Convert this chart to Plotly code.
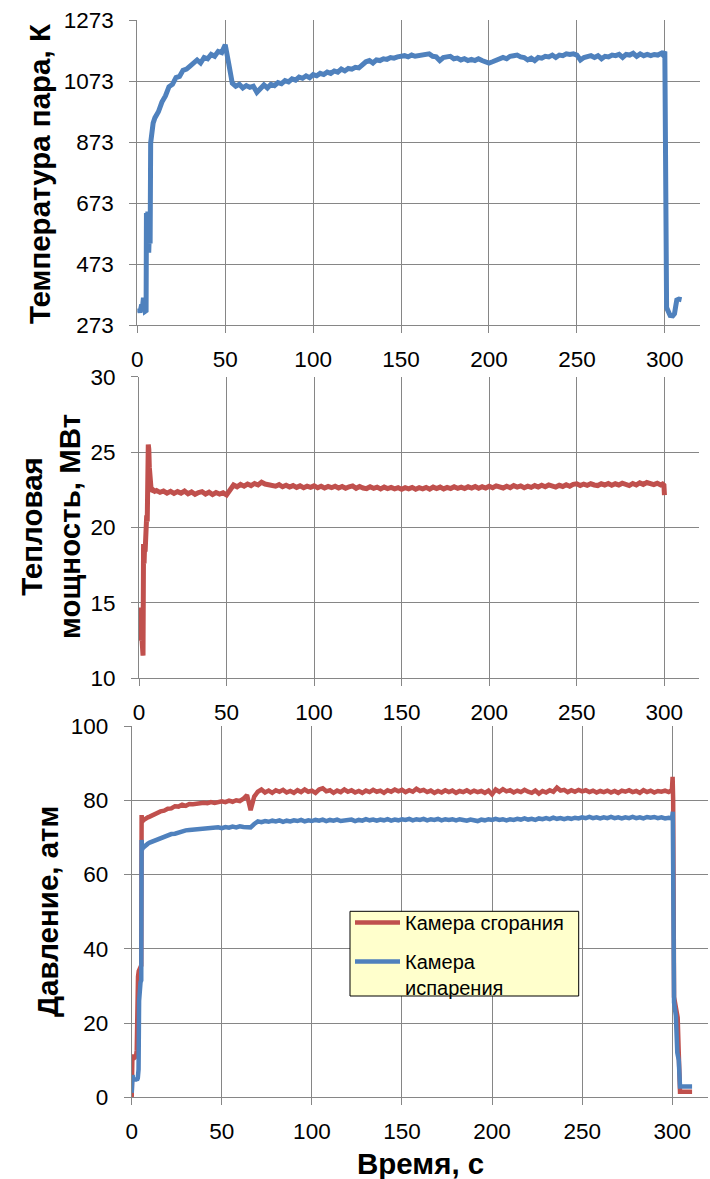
import plotly.graph_objects as go

# ---------------------------------------------------------------------------
# Measured data.  Each series = irregular start-up samples + regular 2 s
# samples on t = 10 ... 298 s + shut-down samples.
# ---------------------------------------------------------------------------
steady_t = list(range(10, 300, 2))          # 145 sampling instants

x_ticks = [0, 50, 100, 150, 200, 250, 300]

# --- Steam temperature, K -------------------------------------------------
vapor_t_start = [0.5, 1, 1.5, 2, 2.5, 3, 3.5, 4, 4.5, 5, 5.2, 5.5, 6, 6.5,
                 7, 7.3, 7.6, 8.2, 9]
vapor_T_start = [318, 322, 314, 330, 340, 335, 362, 350, 318, 320, 640, 520,
                 645, 510, 600, 540, 870, 920, 935]
vapor_T_steady = [
    952, 972, 1004, 1024, 1054, 1062, 1084, 1088, 1108, 1112,
    1122, 1130, 1142, 1132, 1150, 1146, 1160, 1154, 1170, 1166,
    1192, 1130, 1066, 1056, 1062, 1050, 1058, 1052, 1056, 1036,
    1050, 1060, 1050, 1062, 1058, 1068, 1064, 1074, 1070, 1080,
    1076, 1086, 1082, 1090, 1084, 1094, 1090, 1098, 1094, 1102,
    1098, 1106, 1102, 1112, 1106, 1114, 1112, 1118, 1116, 1126,
    1136, 1140, 1132, 1142, 1140, 1146, 1144, 1150, 1148, 1152,
    1154, 1156, 1152, 1158, 1154, 1156, 1158, 1160, 1162, 1154,
    1152, 1140, 1150, 1152, 1154, 1146, 1148, 1142, 1146, 1140,
    1144, 1140, 1146, 1140, 1138, 1132, 1136, 1140, 1146, 1150,
    1146, 1154, 1156, 1158, 1152, 1150, 1142, 1148, 1140, 1150,
    1148, 1154, 1152, 1158, 1150, 1158, 1156, 1162, 1160, 1162,
    1158, 1142, 1150, 1152, 1156, 1150, 1156, 1146, 1154, 1152,
    1158, 1156, 1160, 1150, 1160, 1158, 1164, 1154, 1162, 1156,
    1160, 1156, 1160, 1158, 1164,
]
vapor_t_end = [299, 300, 301, 302, 303, 304.5, 305.5, 306.2, 306.8, 308, 309.5]
vapor_T_end = [1158, 1170, 330, 312, 304, 303, 310, 335, 355, 358, 356]

# --- Heat power, MW -------------------------------------------------------
power_t_start = [0.5, 0.8, 1.1, 1.4, 1.7, 2.0, 2.3, 2.6, 2.9, 3.2, 3.5, 3.8,
                 4.1, 4.4, 4.7, 5.0, 5.3, 5.6, 5.9, 6.2, 6.6, 7.0, 8.0, 9.0]
power_P_start = [14.7, 12.5, 14.4, 13.0, 12.6, 12.2, 11.5, 18.9, 17.6, 18.8,
                 18.4, 20.6, 20.2, 20.8, 20.4, 24.8, 25.5, 25.2, 24.0, 23.0,
                 22.5, 22.4, 22.5, 22.4]
power_P_steady = [
    22.45, 22.33, 22.42, 22.28, 22.40, 22.26, 22.38, 22.28, 22.42, 22.24,
    22.36, 22.20, 22.32, 22.38, 22.22, 22.34, 22.18, 22.32, 22.22, 22.30,
    22.16, 22.55, 22.82, 22.70, 22.86, 22.74, 22.88, 22.78, 22.92, 22.82,
    23.00, 22.88, 22.84, 22.78, 22.74, 22.84, 22.70, 22.80, 22.68, 22.78,
    22.66, 22.76, 22.64, 22.74, 22.66, 22.76, 22.64, 22.74, 22.62, 22.72,
    22.64, 22.74, 22.62, 22.72, 22.60, 22.70, 22.76, 22.60, 22.72, 22.62,
    22.58, 22.70, 22.60, 22.68, 22.56, 22.68, 22.58, 22.66, 22.56, 22.64,
    22.54, 22.64, 22.56, 22.66, 22.54, 22.64, 22.56, 22.66, 22.54, 22.68,
    22.58, 22.68, 22.56, 22.66, 22.58, 22.70, 22.60, 22.68, 22.58, 22.70,
    22.62, 22.72, 22.60, 22.70, 22.62, 22.74, 22.64, 22.76, 22.66, 22.62,
    22.74, 22.64, 22.78, 22.68, 22.76, 22.64, 22.74, 22.66, 22.78, 22.68,
    22.80, 22.70, 22.82, 22.72, 22.68, 22.80, 22.72, 22.84, 22.74, 22.86,
    22.90, 22.78, 22.88, 22.80, 22.90, 22.82, 22.78, 22.90, 22.82, 22.92,
    22.80, 22.90, 22.82, 22.94, 22.84, 22.78, 22.92, 22.82, 22.96, 22.86,
    22.98, 22.88, 22.84, 22.94, 22.82,
]
power_t_end = [299, 299.8, 300.1]
power_P_end = [22.88, 22.80, 22.15]

# --- Pressure, atm: combustion chamber -----------------------------------
comb_t_start = [0, 0.4, 0.9, 1.4, 1.9, 2.4, 2.8, 3.1, 3.5, 3.9, 4.3, 4.8,
                5.3, 5.5, 5.8, 6.3, 7, 8, 9]
comb_P_start = [0, 11.2, 10.6, 11.4, 10.8, 11.0, 12.7, 28.0, 32.5, 34.0,
                34.3, 35.2, 35.5, 76.0, 74.2, 74.5, 74.8, 75.2, 75.4]
comb_P_steady = [
    75.6, 76.1, 76.4, 77.0, 77.2, 77.7, 77.8, 78.4, 78.3, 78.8,
    78.5, 79.0, 78.9, 79.1, 79.0, 79.3, 79.2, 79.5, 79.3, 79.6,
    79.7, 79.5, 79.9, 79.6, 80.0, 79.8, 80.4, 81.4, 77.3, 81.0,
    82.3, 82.9, 82.1, 82.6, 82.0, 82.7, 82.3, 82.8, 82.1, 82.5,
    82.0, 82.7, 82.2, 82.9, 82.3, 82.6, 82.0, 82.9, 83.2, 82.4,
    82.7, 82.0, 82.6, 82.2, 82.9, 82.3, 82.7, 82.1, 82.5, 82.0,
    82.6, 82.2, 82.8, 82.3, 82.6, 82.0, 82.7, 82.3, 82.9, 82.4,
    82.8, 82.2, 82.7, 82.3, 83.1, 82.5, 82.8, 82.2, 82.6, 82.0,
    82.5, 82.1, 82.7, 82.2, 82.6, 82.0, 82.5, 82.2, 82.7, 82.1,
    82.6, 82.2, 82.5, 82.0, 82.6, 81.6, 82.9, 82.3, 83.0, 82.4,
    82.7, 82.1, 82.6, 82.2, 82.8, 82.3, 82.0, 82.6, 81.8, 82.5,
    82.1, 82.7, 82.3, 83.4, 82.6, 82.8, 82.2, 82.7, 82.3, 82.8,
    82.4, 82.7, 82.2, 82.6, 82.1, 82.5, 82.2, 82.6, 82.1, 82.5,
    82.0, 82.6, 82.3, 82.7, 82.2, 82.5, 82.0, 82.7, 82.2, 82.6,
    82.1, 82.5, 82.3, 82.6, 82.2,
]
comb_t_end = [299, 299.8, 300.2, 300.5, 301.0, 302.0, 303.0, 303.6, 304.3, 311.0]
comb_P_end = [82.5, 82.8, 86.3, 80.0, 27.0, 24.5, 21.5, 12.0, 1.5, 1.5]

# --- Pressure, atm: evaporation chamber ----------------------------------
evap_t_start = [0, 0.5, 0.9, 1.4, 1.9, 2.4, 2.9, 3.4, 3.8, 4.1, 4.5, 4.9,
                5.3, 5.5, 5.8, 6.3, 7, 8, 9]
evap_P_start = [1.2, 6.0, 4.6, 5.2, 4.4, 5.0, 4.6, 5.2, 7.5, 26.0, 30.2,
                31.0, 31.5, 69.3, 66.8, 67.2, 67.6, 67.9, 68.3]
evap_P_steady = [
    68.6, 69.0, 69.5, 69.8, 70.3, 70.6, 70.9, 71.0, 71.4, 71.6,
    71.9, 72.0, 72.1, 72.3, 72.2, 72.5, 72.4, 72.6, 72.5, 72.7,
    72.5, 72.8, 72.6, 72.9, 72.7, 73.0, 72.8, 72.9, 72.7, 73.6,
    74.3, 74.1, 74.4, 74.2, 74.5, 74.3, 74.6, 74.2, 74.5, 74.3,
    74.6, 74.4, 74.7, 74.3, 74.6, 74.4, 74.7, 74.5, 74.8, 74.4,
    74.7, 74.5, 74.8, 74.4, 74.6, 74.5, 74.8, 74.4, 74.7, 74.5,
    74.9, 74.6, 74.8, 74.5, 74.8, 74.6, 74.9, 74.5, 74.8, 74.6,
    74.9, 74.7, 75.0, 74.6, 74.9, 74.7, 75.0, 74.6, 74.9, 74.7,
    75.0, 74.6, 74.9, 74.7, 74.9, 74.6, 74.9, 74.7, 74.5, 74.8,
    74.6, 74.4, 74.8, 74.6, 74.9, 74.7, 75.0, 74.7, 74.9, 74.6,
    74.9, 74.7, 75.0, 74.8, 75.1, 74.8, 75.0, 74.7, 75.1, 74.9,
    75.2, 74.9, 75.3, 75.0, 75.2, 74.9, 75.2, 75.0, 75.3, 75.1,
    75.4, 75.2, 75.5, 75.2, 75.4, 75.1, 75.4, 75.2, 75.5, 75.2,
    75.4, 75.1, 75.4, 75.2, 75.5, 75.2, 75.4, 75.1, 75.5, 75.3,
    75.5, 75.2, 75.4, 75.1, 75.3,
]
evap_t_end = [299, 300, 300.3, 301.0, 302.0, 302.8, 303.6, 304.3, 311.0]
evap_P_end = [75.2, 75.6, 76.9, 25.5, 22.0, 12.0, 10.0, 2.9, 2.9]

for series in (vapor_T_steady, power_P_steady, comb_P_steady, evap_P_steady):
    assert len(series) == len(steady_t)

vapor_t = vapor_t_start + steady_t + vapor_t_end
vapor_T = vapor_T_start + vapor_T_steady + vapor_T_end
power_t = power_t_start + steady_t + power_t_end
power_P = power_P_start + power_P_steady + power_P_end
comb_t = comb_t_start + steady_t + comb_t_end
comb_P = comb_P_start + comb_P_steady + comb_P_end
evap_t = evap_t_start + steady_t + evap_t_end
evap_P = evap_P_start + evap_P_steady + evap_P_end

# ---------------------------------------------------------------------------
RED = "#C0504D"
BLUE = "#4F81BD"
GRID = "#868686"
FONT = "Liberation Sans, Arial, sans-serif"
W, H = 710, 1179

fig = go.Figure()

fig.add_trace(go.Scatter(x=vapor_t, y=vapor_T, mode="lines",
                         line=dict(color=BLUE, width=5),
                         xaxis="x", yaxis="y", showlegend=False))
fig.add_trace(go.Scatter(x=power_t, y=power_P, mode="lines",
                         line=dict(color=RED, width=5),
                         xaxis="x2", yaxis="y2", showlegend=False))
fig.add_trace(go.Scatter(x=comb_t, y=comb_P, mode="lines",
                         name="Камера сгорания", legendgroup="a",
                         line=dict(color=RED, width=4.5),
                         xaxis="x3", yaxis="y3"))
fig.add_trace(go.Scatter(x=evap_t, y=evap_P, mode="lines",
                         name="Камера<br>испарения", legendgroup="b",
                         line=dict(color=BLUE, width=4.5),
                         xaxis="x3", yaxis="y3"))


def px_x(left, right):
    return [left / W, right / W]


def px_y(top, bottom):
    return [1 - bottom / H, 1 - top / H]


axis_common = dict(showgrid=True, gridcolor=GRID, gridwidth=1,
                   showline=True, linecolor=GRID, linewidth=1,
                   ticks="outside", ticklen=7, tickcolor=GRID, tickwidth=1,
                   zeroline=False, automargin=False,
                   tickfont=dict(family=FONT, size=22.5, color="black"))

x_common = dict(axis_common, range=[0, 320], tickvals=x_ticks,
                ticklabelstandoff=7)
y_common = dict(axis_common, ticklabelstandoff=11)

title_font = dict(family=FONT, size=29.5, color="black")

fig.update_layout(
    width=W, height=H,
    margin=dict(l=0, r=0, t=0, b=0, autoexpand=False),
    paper_bgcolor="white", plot_bgcolor="white",
    xaxis=dict(x_common, domain=px_x(137.3, 700), anchor="y"),
    yaxis=dict(y_common, domain=px_y(20, 325), anchor="x",
               range=[273, 1273], tickvals=[273, 473, 673, 873, 1073, 1273]),
    xaxis2=dict(x_common, domain=px_x(139, 699.3), anchor="y2"),
    yaxis2=dict(y_common, domain=px_y(376.7, 678.3), anchor="x2",
                range=[10, 30], tickvals=[10, 15, 20, 25, 30]),
    xaxis3=dict(x_common, domain=px_x(131.7, 708.3), anchor="y3"),
    yaxis3=dict(y_common, domain=px_y(726, 1097.3), anchor="x3",
                range=[0, 100], tickvals=[0, 20, 40, 60, 80, 100]),
    legend=dict(x=350 / W, y=1 - 903 / H, xanchor="left", yanchor="top",
                bgcolor="rgba(0,0,0,0)", borderwidth=0,
                font=dict(family=FONT, size=20, color="black"),
                itemwidth=45, valign="top", tracegroupgap=10),
    shapes=[
        # legend frame
        dict(type="rect", xref="paper", yref="paper", layer="above",
             x0=350 / W, x1=578.7 / W, y0=1 - 996 / H, y1=1 - 911.3 / H,
             fillcolor="#FFFFCC", line=dict(color="black", width=1)),
    ],
    annotations=[
        dict(text="<b>Температура пара, К</b>", textangle=-90,
             x=40 / W, y=1 - 174 / H, xref="paper", yref="paper",
             xanchor="center", yanchor="middle", showarrow=False,
             font=title_font),
        dict(text="<b>Тепловая<br>мощность, МВт</b>", textangle=-90,
             x=51 / W, y=1 - 527 / H, xref="paper", yref="paper",
             xanchor="center", yanchor="middle", showarrow=False,
             font=title_font),
        dict(text="<b>Давление, атм</b>", textangle=-90,
             x=47 / W, y=1 - 912 / H, xref="paper", yref="paper",
             xanchor="center", yanchor="middle", showarrow=False,
             font=title_font),
        dict(text="<b>Время, с</b>",
             x=420 / W, y=1 - 1163 / H, xref="paper", yref="paper",
             xanchor="center", yanchor="middle", showarrow=False,
             font=title_font),
    ],
)

fig.write_html("out.html")
